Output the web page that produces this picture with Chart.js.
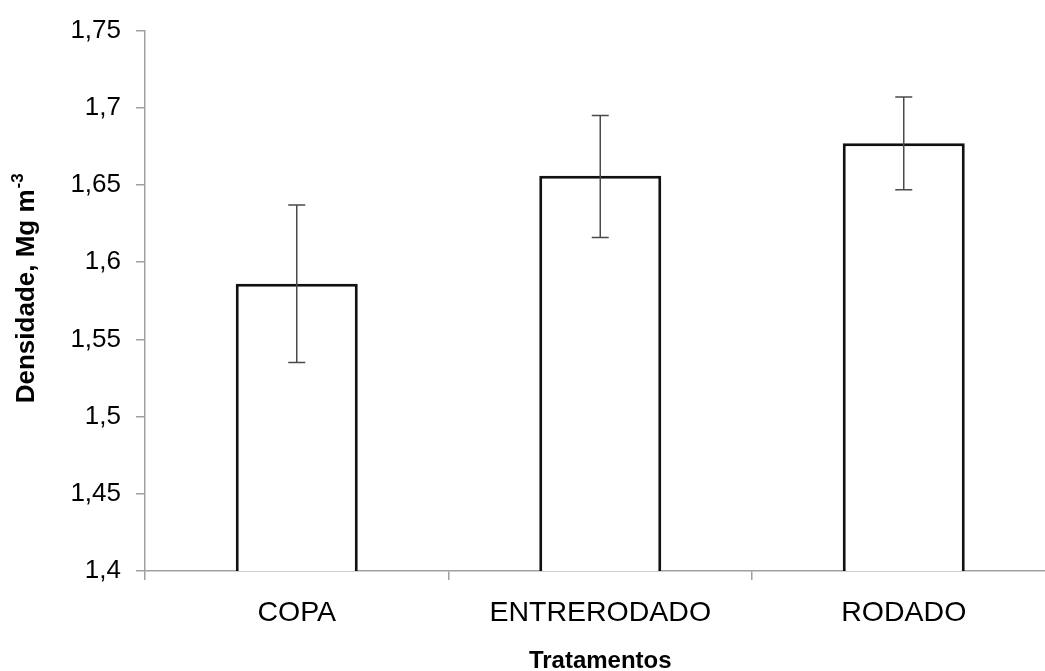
<!DOCTYPE html>
<html lang="pt">
<head>
    <meta charset="UTF-8">
    <title>Densidade por tratamento</title>
    <script src="https://cdn.jsdelivr.net/npm/chart.js"></script>
    <style>
        body {
            margin: 0;
            background: #fff;
            overflow: hidden;
        }
        canvas {
            display: block;
        }
    </style>
</head>
<body>
    <canvas id="densChart" width="1060" height="671"></canvas>

    <script>
        // chart values
        const categories = ['COPA', 'ENTRERODADO', 'RODADO'];
        const means = [1.586, 1.656, 1.677];
        const errLow = [1.535, 1.616, 1.647];
        const errHigh = [1.637, 1.695, 1.707];
        const yTickLabels = ['1,4', '1,45', '1,5', '1,55', '1,6', '1,65', '1,7', '1,75'];

        const FONT = "'Liberation Sans', Arial, sans-serif";

        // error bars drawn through the y scale
        const errorBars = {
            id: 'errorBars',
            afterDatasetsDraw(chart) {
                const ctx = chart.ctx;
                const yScale = chart.scales.y;
                const meta = chart.getDatasetMeta(0);
                ctx.save();
                ctx.strokeStyle = '#4a4a4a';
                ctx.lineWidth = 1.5;
                meta.data.forEach((bar, i) => {
                    const x = bar.x;
                    const yHi = yScale.getPixelForValue(errHigh[i]);
                    const yLo = yScale.getPixelForValue(errLow[i]);
                    ctx.beginPath();
                    ctx.moveTo(x, yHi);
                    ctx.lineTo(x, yLo);
                    ctx.moveTo(x - 8.5, yHi);
                    ctx.lineTo(x + 8.5, yHi);
                    ctx.moveTo(x - 8.5, yLo);
                    ctx.lineTo(x + 8.5, yLo);
                    ctx.stroke();
                });
                ctx.restore();
            }
        };

        // y title with the superscript unit
        const yTitle = {
            id: 'yTitle',
            afterDraw(chart) {
                const ctx = chart.ctx;
                const main = 'Densidade, Mg m';
                const sup = '-3';
                ctx.save();
                ctx.fillStyle = '#000';
                ctx.font = 'bold 26px ' + FONT;
                const w1 = ctx.measureText(main).width;
                ctx.font = 'bold 17px ' + FONT;
                const w2 = ctx.measureText(sup).width;
                const cy = (chart.chartArea.top + chart.chartArea.bottom) / 2 - 12;
                ctx.translate(34, cy);
                ctx.rotate(-Math.PI / 2);
                ctx.textBaseline = 'alphabetic';
                ctx.textAlign = 'left';
                const start = -(w1 + w2) / 2;
                ctx.font = 'bold 26px ' + FONT;
                ctx.fillText(main, start, 0);
                ctx.font = 'bold 17px ' + FONT;
                ctx.fillText(sup, start + w1 + 1, -11);
                ctx.restore();
            }
        };

        const ctx = document.getElementById('densChart').getContext('2d');
        new Chart(ctx, {
            type: 'bar',
            data: {
                labels: categories,
                datasets: [{
                    data: means,
                    backgroundColor: '#fff',
                    borderColor: '#111',
                    borderWidth: 3,
                    borderSkipped: false,
                    barPercentage: 1,
                    categoryPercentage: 0.402
                }]
            },
            options: {
                responsive: false,
                animation: false,
                layout: {
                    padding: { left: 0, right: 4.5, top: 28, bottom: 0 }
                },
                plugins: {
                    legend: { display: false },
                    tooltip: { enabled: false }
                },
                scales: {
                    x: {
                        afterFit(scale) { scale.height = 100; },
                        grid: {
                            offset: true,
                            drawOnChartArea: false,
                            tickLength: 9,
                            color: '#a0a0a0',
                            lineWidth: 1.5
                        },
                        border: { color: '#a0a0a0', width: 1.5 },
                        ticks: {
                            color: '#000',
                            padding: 16,
                            font: { family: FONT, size: 28.5 }
                        },
                        title: {
                            display: true,
                            text: 'Tratamentos',
                            color: '#000',
                            padding: { top: 0, bottom: -5 },
                            font: { family: FONT, size: 24, weight: 'bold' }
                        }
                    },
                    y: {
                        min: 1.4,
                        max: 1.75,
                        afterFit(scale) { scale.width = 145; },
                        grid: {
                            drawOnChartArea: false,
                            tickLength: 9,
                            color: '#a0a0a0',
                            lineWidth: 1.5
                        },
                        border: { color: '#a0a0a0', width: 1.5 },
                        ticks: {
                            stepSize: 0.05,
                            color: '#000',
                            padding: 15,
                            font: { family: FONT, size: 26 },
                            callback: (v, i) => yTickLabels[i]
                        }
                    }
                }
            },
            plugins: [errorBars, yTitle]
        });
    </script>
</body>
</html>
